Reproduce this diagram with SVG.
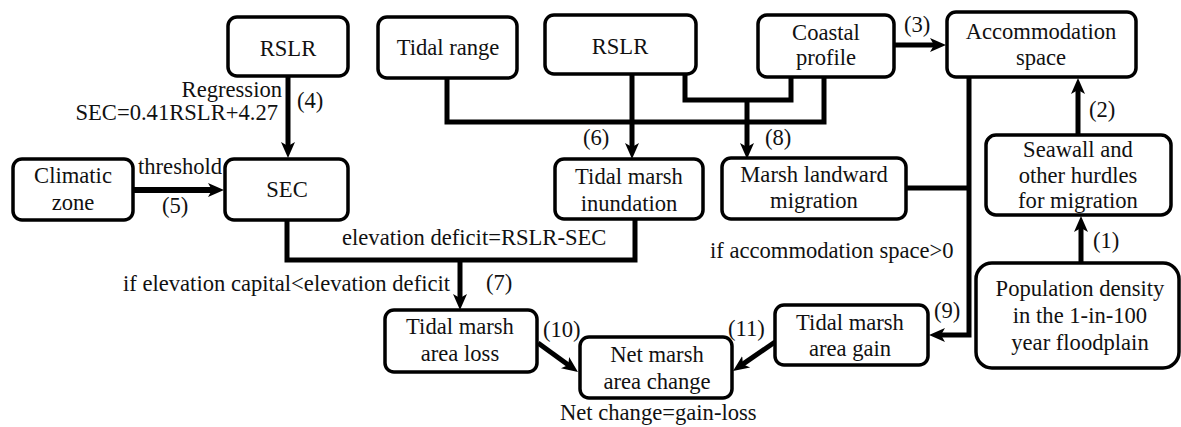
<svg xmlns="http://www.w3.org/2000/svg" width="1181" height="427" viewBox="0 0 1181 427">
<style>
.box{fill:#fff;stroke:#000;stroke-width:3.5}
text{font-size:22.6px;fill:#111}
.c{text-anchor:middle}
.e{text-anchor:end}
.ln{fill:none;stroke:#000;stroke-width:5;stroke-linejoin:miter}
.ar{marker-end:url(#ah)}
</style>
<defs>
<marker id="ah" markerUnits="userSpaceOnUse" markerWidth="16" markerHeight="16" viewBox="0 0 16 16" refX="8" refY="8" orient="auto">
<path d="M0,1 L16,8 L0,15 L4,8 z" fill="#000"/>
</marker>
</defs>
<rect width="1181" height="427" fill="#fff"/>
<g id="connectors">
<path class="ln ar" d="M288,76 V150"/>
<path class="ln ar" style="stroke-width:6" d="M133,190 H216"/>
<path class="ln" d="M447,78 V122 H824 V77"/>
<path class="ln" d="M685,74 V100 H791 V77"/>
<path class="ln ar" d="M632,74 V151"/>
<path class="ln ar" d="M747,100 V151"/>
<path class="ln ar" d="M894,45 H938"/>
<path class="ln ar" d="M969,77 V335 H937"/>
<path class="ln" d="M906,188 H969"/>
<path class="ln ar" d="M1078,135 V86"/>
<path class="ln ar" d="M1081,263 V224"/>
<path class="ln" d="M287,220 V260 H635 V218"/>
<path class="ln ar" d="M460,260 V302"/>
<path class="ln ar" d="M538,343 L571.5,367.3"/>
<path class="ln ar" d="M775,342 L739.6,366.4"/>
</g>
<g font-family="'Liberation Serif', 'Times New Roman', 'DejaVu Serif', serif">
<g id="labels">
<text class="e" x="282" y="97">Regression</text>
<text class="e" x="278" y="120">SEC=0.41RSLR+4.27</text>
<text x="297" y="108">(4)</text>
<text x="138" y="174">threshold</text>
<text x="162" y="213">(5)</text>
<text x="583" y="145">(6)</text>
<text x="765" y="145">(8)</text>
<text x="904" y="32">(3)</text>
<text x="1089" y="117">(2)</text>
<text x="1093" y="248">(1)</text>
<text x="710" y="258">if accommodation space&gt;0</text>
<text x="934" y="318">(9)</text>
<text x="342" y="245">elevation deficit=RSLR-SEC</text>
<text x="123" y="291">if elevation capital&lt;elevation deficit</text>
<text x="486" y="290">(7)</text>
<text x="543" y="337">(10)</text>
<text x="728" y="336">(11)</text>
<text x="560" y="420">Net change=gain-loss</text>
</g>
<g id="rslr1"><rect class="box" x="228" y="17" width="120" height="59" rx="9"/><text class="c" x="288" y="56">RSLR</text></g>
<g id="tidal-range"><rect class="box" x="378" y="17" width="139" height="61" rx="9"/><text class="c" x="448" y="55">Tidal range</text></g>
<g id="rslr2"><rect class="box" x="545" y="15" width="151" height="59" rx="9"/><text class="c" x="620" y="54">RSLR</text></g>
<g id="coastal-profile"><rect class="box" x="758" y="15" width="136" height="62" rx="9"/><text class="c" x="826" y="40">Coastal</text><text class="c" x="826" y="65">profile</text></g>
<g id="accommodation"><rect class="box" x="947" y="12" width="189" height="65" rx="9"/><text class="c" x="1041" y="39">Accommodation</text><text class="c" x="1041" y="65">space</text></g>
<g id="climatic"><rect class="box" x="13" y="159" width="120" height="61" rx="9"/><text class="c" x="73" y="183">Climatic</text><text class="c" x="73" y="210">zone</text></g>
<g id="sec"><rect class="box" x="225" y="159" width="123" height="61" rx="9"/><text class="c" x="287" y="197">SEC</text></g>
<g id="inundation"><rect class="box" x="555" y="159" width="148" height="60" rx="9"/><text class="c" x="629" y="184">Tidal marsh</text><text class="c" x="629" y="211">inundation</text></g>
<g id="landward"><rect class="box" x="722" y="158" width="184" height="61" rx="9"/><text class="c" x="814" y="182">Marsh landward</text><text class="c" x="814" y="208">migration</text></g>
<g id="seawall"><rect class="box" x="986" y="135" width="185" height="80" rx="10"/><text class="c" x="1078" y="157">Seawall and</text><text class="c" x="1078" y="183">other hurdles</text><text class="c" x="1078" y="208">for migration</text></g>
<g id="population"><rect class="box" x="976" y="263" width="203" height="105" rx="16"/><text class="c" x="1080" y="296">Population density</text><text class="c" x="1080" y="323">in the 1-in-100</text><text class="c" x="1080" y="350">year floodplain</text></g>
<g id="loss"><rect class="box" x="385" y="310" width="152" height="62" rx="9"/><text class="c" x="460" y="334">Tidal marsh</text><text class="c" x="460" y="361">area loss</text></g>
<g id="net"><rect class="box" x="580" y="337" width="152" height="61" rx="9"/><text class="c" x="657" y="362">Net marsh</text><text class="c" x="657" y="389">area change</text></g>
<g id="gain"><rect class="box" x="775" y="305" width="153" height="60" rx="9"/><text class="c" x="850" y="330">Tidal marsh</text><text class="c" x="850" y="356">area gain</text></g>
</g>
</svg>
